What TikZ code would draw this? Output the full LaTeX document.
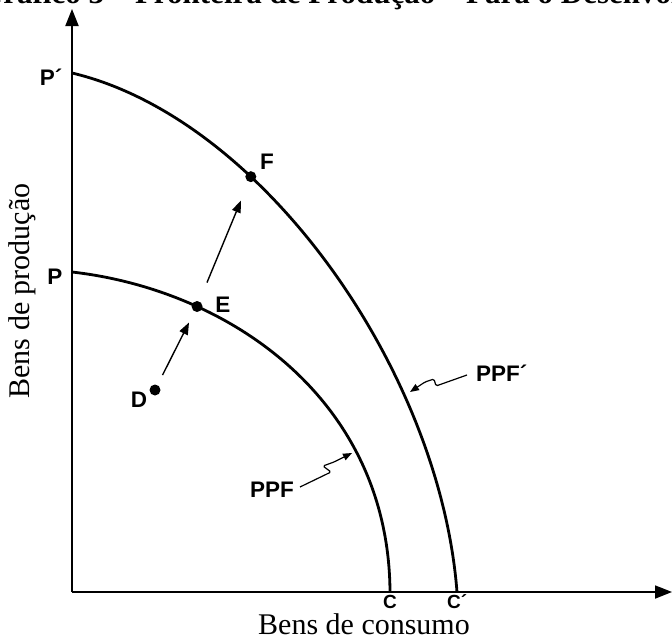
\documentclass[tikz,border=0pt]{standalone}
\usepackage{fontspec}
\setmainfont{Liberation Serif}
\newfontfamily\lblfont{Liberation Sans}
\usetikzlibrary{arrows.meta}
\begin{document}
\begin{tikzpicture}[x=1pt,y=-1pt,
  curve/.style={line width=2.8pt},
  axis/.style={line width=1.8pt,-{Triangle[length=17pt,width=13pt]}},
  move/.style={line width=1.4pt,-{Triangle[length=12pt,width=9pt]}},
  lead/.style={line width=1.2pt,rounded corners=1.5pt,-{Triangle[length=9pt,width=7pt]}},
  dot/.style={circle,fill,inner sep=0pt,minimum size=11pt},
  lbl/.style={font=\lblfont\bfseries\fontsize{22.5pt}{22.5pt}\selectfont,inner sep=0pt},
  lbls/.style={font=\lblfont\bfseries\fontsize{19pt}{19pt}\selectfont,inner sep=0pt},
  axlbl/.style={font=\fontsize{30pt}{30pt}\selectfont,inner sep=0pt}]
\useasboundingbox (0,0) rectangle (672,637);
\clip (0,0) rectangle (672,637);
% clipped title
\node[font=\bfseries\fontsize{31pt}{31pt}\selectfont,inner sep=0pt,anchor=base west] (title) at (-21,4) {Gráfico 3 – Fronteira de Produção – Para o Desenvolvimento};
% axes
\coordinate (O) at (72,592);
\coordinate (ytip) at (72,9);
\coordinate (xtip) at (672,592);
\draw[axis] (O) -- (ytip);
\draw[axis] (O) -- (xtip);
% frontiers
\coordinate (Pp) at (72,73);
\coordinate (Cp) at (457,592);
\coordinate (P) at (72,272);
\coordinate (C) at (390,592);
\draw[curve] (Pp) .. controls (262,118) and (440,370) .. (Cp) node[dot,pos=0.33] (F) {};
\draw[curve] (P) .. controls (230,290) and (389,400) .. (C) node[dot,pos=0.27] (E) {};
% point D
\node[dot] (D) at (155,390) {};
\draw[move,shorten <=11pt,shorten >=11pt] (D) -- (E);
\draw[move,shorten <=19pt,shorten >=19pt] (E) -- (F);
% labels
\node[lbl] (lPp) at (51,77) {P´};
\node[lbl] (lP) at (55,277) {P};
\node[lbl] (lD) at (139,400) {D};
\node[lbl] (lE) at (223,305) {E};
\node[lbl] (lF) at (267,162) {F};
\node[lbl] (lPPF) at (272,490) {PPF};
\node[lbl,anchor=west] (lPPFp) at (476,373) {PPF´};
\node[lbls] (lC) at (390,602) {C};
\node[lbls,anchor=west] (lCp) at (447,602) {C´};
% leaders
\coordinate (a1) at (300,487);
\coordinate (a2) at (331,472);
\coordinate (a3) at (323,466);
\coordinate (a4) at (334,462);
\coordinate (a5) at (352,453);
\draw[lead] (a1) -- (a2) -- (a3) -- (a4) -- (a5);
\coordinate (b1) at (467,375);
\coordinate (b2) at (436,386);
\coordinate (b3) at (434,379);
\coordinate (b4) at (425,382);
\coordinate (b5) at (410,392);
\draw[lead] (b1) -- (b2) -- (b3) -- (b4) -- (b5);
% axis titles
\node[axlbl,anchor=base] (xl) at (364,634) {Bens de consumo};
\node[axlbl,rotate=90] (yl) at (22,291) {Bens de produção};
\end{tikzpicture}
\end{document}
